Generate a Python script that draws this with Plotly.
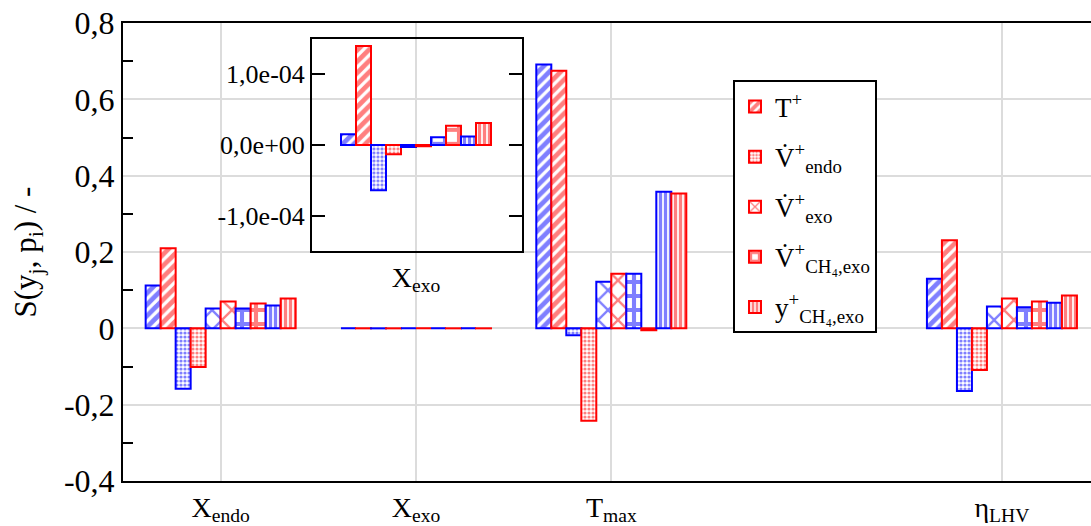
import plotly.graph_objects as go

# ---- data -------------------------------------------------------------
categories = ["X<sub>endo</sub>", "X<sub>exo</sub>", "T<sub>max</sub>", "η<sub>LHV</sub>"]
cat_pos = [1, 2, 3, 5]

legend_names = [
    "T<sup>+</sup>",
    "V\u0307<sup>+</sup><sub>endo</sub>",
    "V\u0307<sup>+</sup><sub>exo</sub>",
    "V\u0307<sup>+</sup><sub>CH\u2084,exo</sub>",
    "y<sup>+</sup><sub>CH\u2084,exo</sub>",
]

# sensitivities, blue case (order: X_endo, X_exo, T_max, eta_LHV)
blue_T = [0.112, 0.15e-4, 0.691, 0.130]
blue_V_endo = [-0.158, -0.64e-4, -0.018, -0.164]
blue_V_exo = [0.052, -0.03e-4, 0.122, 0.057]
blue_V_ch4 = [0.052, 0.11e-4, 0.143, 0.055]
blue_y_ch4 = [0.060, 0.12e-4, 0.358, 0.067]

# sensitivities, red case
red_T = [0.210, 1.40e-4, 0.675, 0.231]
red_V_endo = [-0.101, -0.13e-4, -0.242, -0.109]
red_V_exo = [0.070, -0.02e-4, 0.143, 0.078]
red_V_ch4 = [0.065, 0.27e-4, -0.005, 0.070]
red_y_ch4 = [0.078, 0.31e-4, 0.353, 0.086]

y_tickvals = [-0.4, -0.2, 0, 0.2, 0.4, 0.6, 0.8]
y_ticktext = ["-0,4", "-0,2", "0", "0,2", "0,4", "0,6", "0,8"]
inset_tickvals = [-1e-4, 0, 1e-4]
inset_ticktext = ["-1,0e-04", "0,0e+00", "1,0e-04"]

# ---- styling ----------------------------------------------------------
BLUE = "#0000ff"
RED = "#ff0000"
FONT = "'Liberation Serif', 'Times New Roman', Times, serif"
patterns = [
    dict(shape="/", size=8, solidity=0.6),
    dict(shape=".", size=4, solidity=0.5),
    dict(shape="x", size=14, solidity=0.3),
    dict(shape="+", size=14, solidity=0.5),
    dict(shape="|", size=5, solidity=0.65),
]

series = [
    (blue_T, red_T),
    (blue_V_endo, red_V_endo),
    (blue_V_exo, red_V_exo),
    (blue_V_ch4, red_V_ch4),
    (blue_y_ch4, red_y_ch4),
]

# figure geometry (pixels)
W, H = 1091, 526
ML, MR, MT, MB = 123, 0, 23, 41
PW, PH = W - ML - MR, H - MT - MB
x_range = [0.5, 5.456]
px_per_unit = PW / (x_range[1] - x_range[0])

# inset box in pixels
IL, IR, IT, IB = 312, 522, 39, 253
inset_xdom = [(IL - ML) / PW, (IR - ML) / PW]
inset_ydom = [(H - MB - IB) / PH, (H - MB - IT) / PH]
inset_xrange = [x_range[0] + (IL - ML) / px_per_unit,
                x_range[0] + (IR - ML) / px_per_unit]

fig = go.Figure()


def bar(vals, color, pat, name, group, show, xaxis, yaxis, xs):
    return go.Bar(
        x=xs, y=vals, name=name, legendgroup=group, showlegend=show,
        xaxis=xaxis, yaxis=yaxis,
        marker=dict(
            color="white",
            line=dict(color=color, width=2),
            pattern=dict(fgcolor=color, bgcolor="white", fillmode="overlay", **pat),
        ),
    )


for i, ((b, r), pat) in enumerate(zip(series, patterns)):
    g = f"g{i}"
    fig.add_trace(bar(b, BLUE, pat, legend_names[i], g, False, "x", "y", cat_pos))
    fig.add_trace(bar(r, RED, pat, legend_names[i], g, True, "x", "y", cat_pos))

# inset: X_exo only
for i, ((b, r), pat) in enumerate(zip(series, patterns)):
    g = f"g{i}"
    fig.add_trace(bar([b[1]], BLUE, pat, legend_names[i], g, False, "x2", "y2", [cat_pos[1]]))
    fig.add_trace(bar([r[1]], RED, pat, legend_names[i], g, False, "x2", "y2", [cat_pos[1]]))

grid = "#dcdcdc"
sp = "\u00a0"
fig.update_layout(
    width=W, height=H,
    margin=dict(l=ML, r=MR, t=MT, b=MB),
    paper_bgcolor="white",
    plot_bgcolor="rgba(0,0,0,0)",
    font=dict(family=FONT, color="black", size=27),
    barmode="group", bargap=0.232, bargroupgap=0,
    xaxis=dict(
        domain=[0, 1], range=x_range,
        tickmode="array", tickvals=cat_pos, ticktext=categories,
        ticks="", showgrid=True, gridcolor=grid, gridwidth=2,
        showline=True, linecolor="black", linewidth=2, mirror=True,
        zeroline=False, tickfont=dict(family=FONT, size=28),
    ),
    yaxis=dict(
        domain=[0, 1], range=[-0.4, 0.8],
        tickmode="array", tickvals=y_tickvals, ticktext=y_ticktext,
        ticks="", showgrid=True, gridcolor=grid, gridwidth=2,
        showline=True, linecolor="black", linewidth=2, mirror=False,
        zeroline=False, tickfont=dict(family=FONT, size=32),
        minor=dict(tickmode="linear", tick0=0.1, dtick=0.2, ticks="inside",
                   ticklen=10, tickwidth=2, tickcolor="black", showgrid=False),
        title=dict(text=f"S(y<sub>j</sub>,{sp}p<sub>i</sub>){sp}/{sp}-",
                   font=dict(family=FONT, size=31), standoff=18),
    ),
    xaxis2=dict(
        domain=inset_xdom, range=inset_xrange, anchor="y2",
        tickmode="array", tickvals=[cat_pos[1]], ticktext=[categories[1]],
        ticks="", showgrid=False, zeroline=False,
        showline=True, linecolor="black", linewidth=2, mirror=True,
        tickfont=dict(family=FONT, size=28),
    ),
    yaxis2=dict(
        domain=inset_ydom, range=[-1.5e-4, 1.5e-4], anchor="x2",
        tickmode="array", tickvals=inset_tickvals, ticktext=inset_ticktext,
        ticks="inside", ticklen=13, tickwidth=2, tickcolor="black",
        showgrid=False, zeroline=False,
        showline=True, linecolor="black", linewidth=2, mirror="ticks",
        tickfont=dict(family=FONT, size=26),
    ),
    legend=dict(
        x=(733 - ML) / PW, y=(H - MB - 81) / PH, xanchor="left", yanchor="top",
        bgcolor="white", bordercolor="black", borderwidth=2,
        font=dict(family=FONT, size=27), traceorder="grouped", tracegroupgap=12,
    ),
)

fig.write_html("out.html")
